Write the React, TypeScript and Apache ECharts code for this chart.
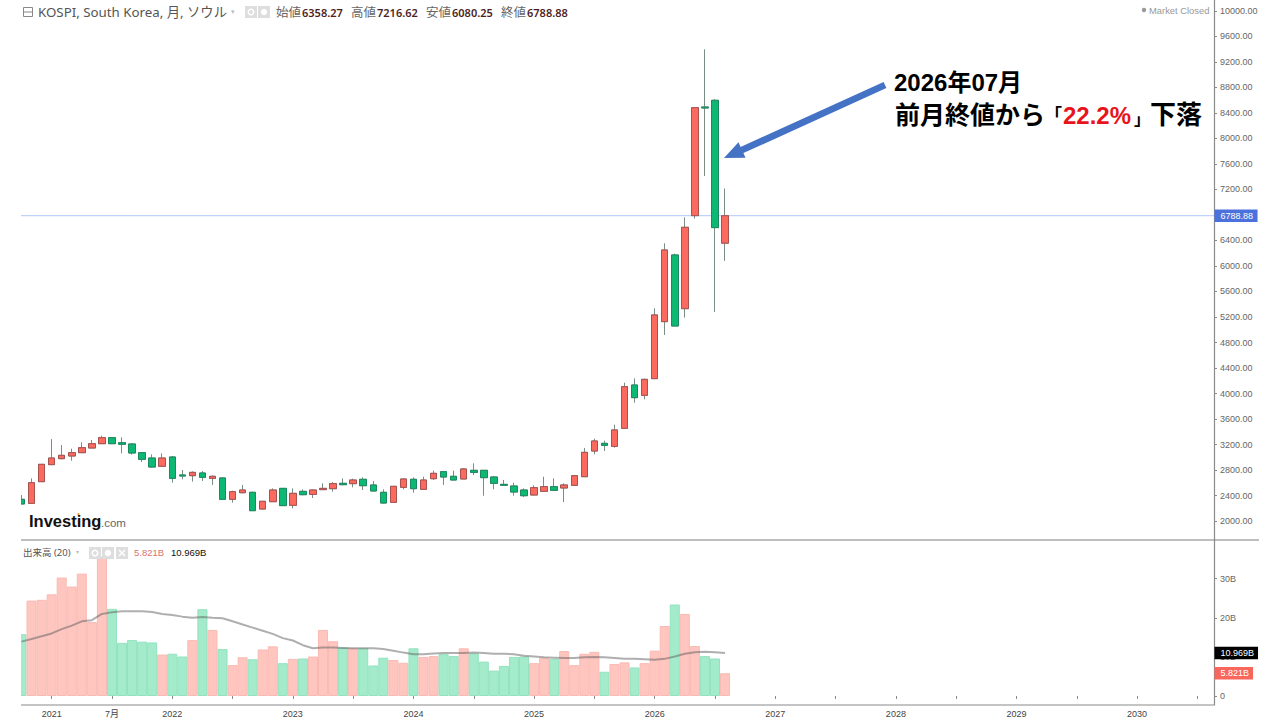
import React, { useEffect, useRef } from "react";
import * as echarts from "echarts";

const opens = [2340,2277,2617,2884,2978,3020,3072,3145,3213,3307,3229,3208,3072,2988,2858,3004,2722,2711,2753,2669,2675,2340,2444,2450,2188,2303,2512,2246,2465,2418,2492,2507,2591,2586,2654,2565,2450,2293,2528,2654,2497,2664,2774,2701,2659,2795,2795,2690,2575,2549,2486,2408,2465,2539,2518,2559,2695,3098,3218,3171,3454,4133,3971,4233,5127,6173,5331,6790,8494,8599,6358.27];
const closes = [2267,2601,2889,2988,3030,3072,3150,3213,3307,3213,3203,3067,2967,2847,2988,2669,2706,2763,2685,2701,2340,2460,2486,2162,2309,2486,2241,2434,2413,2486,2512,2586,2570,2643,2554,2471,2282,2544,2659,2507,2643,2748,2690,2643,2816,2763,2680,2591,2560,2455,2397,2523,2539,2481,2565,2711,3077,3255,3187,3428,4107,3935,4222,5232,6251,5059,6607,8484,8479,6602,6788.88];
const lows = [2267,2277,2617,2884,2967,2946,3072,3145,3213,3213,3062,3041,2926,2837,2858,2601,2654,2617,2627,2565,2329,2288,2434,2157,2183,2303,2241,2199,2403,2361,2486,2460,2560,2528,2486,2465,2277,2293,2497,2444,2497,2643,2565,2643,2659,2722,2397,2497,2554,2397,2376,2403,2460,2476,2298,2554,2695,3046,3098,3150,3454,3856,3909,4233,4918,5059,5190,6743,7412,5279,6080.25];
const highs = [2408,2669,2889,3286,3192,3135,3234,3271,3339,3318,3312,3224,3072,3046,3061,3020,2800,2779,2784,2716,2685,2476,2565,2460,2314,2512,2518,2512,2497,2497,2591,2612,2669,2664,2685,2627,2497,2549,2669,2685,2695,2790,2774,2790,2826,2905,2800,2706,2643,2601,2512,2560,2695,2669,2591,2722,3145,3292,3260,3512,4170,4238,4233,5336,6356,6194,6764,8484,9399,8615,7216.62];
const volumes = [15.8,24.4,24.6,26.0,30.3,28.0,31.3,18.9,35.6,22.3,13.6,14.3,13.9,13.7,10.6,10.8,10.1,14.3,22.2,16.9,12.0,7.9,9.9,9.4,11.9,12.7,8.4,9.5,9.6,10.1,16.9,14.0,12.4,12.2,12.2,7.8,9.8,9.2,8.5,12.2,10.0,10.2,10.7,10.2,12.2,10.9,8.8,6.5,7.7,10.0,10.1,8.4,9.8,9.5,11.5,7.9,10.8,11.3,6.2,8.2,8.6,7.3,8.4,11.6,17.9,23.4,21.0,12.8,10.2,9.6,5.821];
const volumeMA = [13.9,14.6,15.3,16.0,17.1,18.0,19.1,19.4,21.0,21.4,21.7,21.7,21.7,21.5,21.0,20.7,20.3,20.0,20.2,20.0,19.9,19.1,18.3,17.5,16.7,15.9,14.8,14.2,13.0,12.2,12.4,12.4,12.3,12.2,12.2,12.2,12.0,11.6,11.1,10.7,10.7,10.9,11.0,11.0,11.0,11.1,11.0,10.8,10.8,10.7,10.3,10.1,9.9,9.8,9.7,9.7,9.9,10.0,9.9,9.7,9.5,9.5,9.4,9.3,9.5,10.1,10.8,11.2,11.3,11.2,10.969];
const priceTicks = [10000,9600,9200,8800,8400,8000,7600,7200,6800,6400,6000,5600,5200,4800,4400,4000,3600,3200,2800,2400,2000];
const volumeTicks = [0,10,20,30];
const lastClose = 6788.88;
const lastVolume = 5.821;
const lastVolumeMA = 10.969;

const startYear = 2020;
const startMonth = 10;
const monthCount = 120;
const categories: string[] = [];
for (let i = 0; i < monthCount; i++) {
  const m = startMonth - 1 + i;
  const y = startYear + Math.floor(m / 12);
  categories.push(`${y}-${String((m % 12) + 1).padStart(2, "0")}`);
}
const firstHalfTick = "2021-07";

const SANS = '"Liberation Sans", "Noto Sans CJK JP", sans-serif';
const UI = '"Noto Sans", "Noto Sans CJK JP", sans-serif';
const JP = '"Liberation Sans", "Noto Sans CJK JP", sans-serif';
const RED = "#FB6A5F";
const RED_B = "#A85250";
const GREEN = "#0DB872";
const GREEN_B = "#1A8A60";

const isLabelled = (c: string) => c.endsWith("-01") || c === firstHalfTick;
const isTicked = (c: string) => c.endsWith("-01") || c.endsWith("-07");

const txt = (x: number, y: number, text: string, fill: string, font: number, extra: any = {}) => ({
  type: "text",
  x,
  y,
  style: { text, fill, font: `${extra.weight || "normal"} ${font}px ${extra.family || UI}`, textVerticalAlign: "middle", textAlign: extra.align || "left" },
  z: 50,
});
const box = (x: number, y: number, w = 12) => ({ type: "rect", shape: { x, y, width: w, height: w }, style: { fill: "#DEDEDE" }, z: 50 });
const ringIcon = (cx: number, cy: number) => ({ type: "ring", shape: { cx, cy, r: 3.5, r0: 2 }, style: { fill: "#FFFFFF" }, z: 51 });
const dotIcon = (cx: number, cy: number) => ({ type: "circle", shape: { cx, cy, r: 3.2 }, style: { fill: "#FFFFFF" }, z: 51 });
const seg = (x1: number, y1: number, x2: number, y2: number, stroke = "#8A8A8A", lineWidth = 1, z = 20) => ({
  type: "line",
  shape: { x1, y1, x2, y2 },
  style: { stroke, lineWidth },
  z,
});

function buildOption() {
  const candles = opens.map((o, i) => [o, closes[i], lows[i], highs[i]]);
  const bodies = opens.map((o, i) => [o, closes[i], Math.min(o, closes[i]), Math.max(o, closes[i])]);
  const vols = volumes.map((v, i) => {
    const up = closes[i] >= opens[i];
    return { value: v, itemStyle: { color: up ? "#FFC5BF" : "#A4EBCB", borderColor: up ? "#F9BAB4" : "#93E2BF", borderWidth: 1 } };
  });
  const tag = (v: number, text: string, bg: string) => ({
    silent: true,
    symbol: "none",
    animation: false,
    lineStyle: { color: "rgba(0,0,0,0)", width: 0 },
    label: {
      show: true,
      position: "end",
      distance: 0,
      offset: [-3, 0],
      formatter: text,
      color: "#FFFFFF",
      backgroundColor: bg,
      fontFamily: SANS,
      fontSize: 9,
      padding: [2, 4, 1.5, 6],
    },
    data: [{ yAxis: v }],
  });
  return {
    animation: false,
    backgroundColor: "#FFFFFF",
    grid: [
      { left: 21.5, top: 0, width: 1196, height: 540 },
      { left: 21.5, top: 540, width: 1196, height: 165 },
    ],
    xAxis: [
      { type: "category", gridIndex: 0, data: categories, boundaryGap: false, show: false },
      {
        type: "category",
        gridIndex: 1,
        data: categories,
        boundaryGap: false,
        axisLine: { show: false },
        axisTick: { show: true, length: 3, lineStyle: { color: "#8A8A8A" }, interval: (i: number, c: string) => isTicked(c) },
        splitLine: { show: false },
        axisLabel: {
          interval: (i: number, c: string) => isLabelled(c),
          formatter: (c: string) => (c === firstHalfTick ? "7月" : c.slice(0, 4)),
          color: "#444444",
          fontFamily: SANS,
          fontSize: 9,
          margin: 4,
          hideOverlap: false,
        },
      },
    ],
    yAxis: [
      {
        type: "value",
        gridIndex: 0,
        position: "right",
        offset: -3.5,
        min: 1702,
        max: 10172.5,
        scale: true,
        splitLine: { show: false },
        axisLine: { show: true, onZero: false, lineStyle: { color: "#8A8A8A", width: 1.2 } },
        axisTick: { show: true, length: 3, customValues: priceTicks, lineStyle: { color: "#8A8A8A" } },
        axisLabel: {
          customValues: priceTicks,
          formatter: (v: number) => v.toFixed(2),
          color: "#666666",
          fontFamily: SANS,
          fontSize: 9,
          margin: 6,
          align: "left",
          showMinLabel: true,
          showMaxLabel: true,
        },
      },
      {
        type: "value",
        gridIndex: 1,
        position: "right",
        offset: -3.5,
        min: -2.3,
        max: 39.9,
        splitLine: { show: false },
        axisLine: { show: true, onZero: false, lineStyle: { color: "#8A8A8A", width: 1.2 } },
        axisTick: { show: true, length: 3, customValues: volumeTicks, lineStyle: { color: "#8A8A8A" } },
        axisLabel: {
          customValues: volumeTicks,
          formatter: (v: number) => (v === 0 ? "0" : `${v}B`),
          color: "#666666",
          fontFamily: SANS,
          fontSize: 9,
          margin: 6,
          align: "left",
        },
      },
    ],
    series: [
      {
        name: "wick",
        type: "candlestick",
        xAxisIndex: 0,
        yAxisIndex: 0,
        barWidth: 7,
        data: candles,
        itemStyle: { color: "rgba(0,0,0,0)", color0: "rgba(0,0,0,0)", borderColor: "#7B8E86", borderColor0: "#7B8E86", borderWidth: 1 },
        z: 3,
      },
      {
        name: "KOSPI",
        type: "candlestick",
        xAxisIndex: 0,
        yAxisIndex: 0,
        barWidth: 7,
        data: bodies,
        itemStyle: { color: RED, color0: GREEN, borderColor: RED_B, borderColor0: GREEN_B, borderWidth: 1 },
        z: 4,
      },
      {
        name: "lastClose",
        type: "line",
        xAxisIndex: 0,
        yAxisIndex: 0,
        data: categories.map(() => lastClose),
        symbol: "none",
        color: "#5F90F2",
        lineStyle: { color: "#5F90F2", type: [1, 1], width: 1 },
        z: 2,
        markLine: {
          silent: true,
          symbol: "none",
          animation: false,
          lineStyle: { color: "rgba(0,0,0,0)", width: 0 },
          label: {
            show: true,
            position: "end",
            distance: 0,
            offset: [-3, 0],
            formatter: lastClose.toFixed(2),
            color: "#FFFFFF",
            backgroundColor: "#4B72DC",
            fontFamily: SANS,
            fontSize: 9,
            padding: [2, 4.5, 1.5, 6],
          },
          data: [{ yAxis: lastClose }],
        },
      },
      {
        name: "出来高",
        type: "bar",
        xAxisIndex: 1,
        yAxisIndex: 1,
        barWidth: 10.05,
        data: vols,
        z: 2,
        markLine: tag(lastVolume, `${lastVolume}B`, "#F9665C"),
      },
      {
        name: "MA",
        type: "line",
        xAxisIndex: 1,
        yAxisIndex: 1,
        data: volumeMA,
        symbol: "none",
        lineStyle: { color: "rgba(95,95,95,0.5)", width: 2 },
        z: 3,
        markLine: tag(lastVolumeMA, `${lastVolumeMA}B`, "#000000"),
      },
    ],
    graphic: [
      { type: "group", silent: true, children: [
        // the reference's panes crop the first month at their left edge
        { type: "rect", shape: { x: 0, y: 0, width: 21, height: 705 }, style: { fill: "#FFFFFF" }, z: 19 },
        seg(21, 540, 1259, 540, "#7E7E7E", 1),
        seg(21, 705, 1214, 705, "#8A8A8A", 1.2),
        // header
        { type: "rect", shape: { x: 23.5, y: 7.5, width: 9, height: 9 }, style: { fill: "#FFF", stroke: "#888", lineWidth: 1 }, z: 50 },
        seg(24, 12, 32, 12, "#888", 1, 52),
        txt(38, 12, "KOSPI, South Korea, 月, ソウル", "#555555", 13.3),
        txt(231, 11, "▾", "#BBBBBB", 7),
        box(245, 6), ringIcon(251, 12),
        box(258, 6), dotIcon(264, 12),
        txt(276, 12, "始値", "#666666", 12.5),
        txt(302, 12, "6358.27", "#4E1E1E", 11, { weight: "600" }),
        txt(351, 12, "高値", "#666666", 12.5),
        txt(377, 12, "7216.62", "#4E1E1E", 11, { weight: "600" }),
        txt(426, 12, "安値", "#666666", 12.5),
        txt(452, 12, "6080.25", "#4E1E1E", 11, { weight: "600" }),
        txt(501, 12, "終値", "#666666", 12.5),
        txt(527, 12, "6788.88", "#4E1E1E", 11, { weight: "600" }),
        { type: "circle", shape: { cx: 1144, cy: 10, r: 2.2 }, style: { fill: "#999999" }, z: 50 },
        txt(1149, 10, "Market Closed", "#999999", 9.4, { family: SANS }),
        // volume legend
        txt(23, 552.5, "出来高 (20)", "#555555", 9.5),
        txt(76, 552, "▾", "#BBBBBB", 6),
        box(89, 547), ringIcon(95, 553),
        box(102, 547), dotIcon(108, 553),
        box(116, 547),
        seg(119, 550, 125, 556, "#FFFFFF", 1.5, 52),
        seg(125, 550, 119, 556, "#FFFFFF", 1.5, 52),
        txt(134, 552.5, "5.821B", "#D9736C", 9.5, { family: SANS }),
        txt(171, 552.5, "10.969B", "#111111", 9.5, { family: SANS }),
        // logo
        txt(29, 521, "Investing", "#111111", 16.5, { family: SANS, weight: "bold" }),
        txt(101, 523, ".com", "#666666", 11.5, { family: SANS }),
        { type: "circle", shape: { cx: 78.5, cy: 514, r: 1.1 }, style: { fill: "#F0A030" }, z: 51 },
        // annotation
        { type: "polygon", shape: { points: [[724,158],[738.5,142.3],[740.6,146.9],[883.6,81.9],[886.4,88.1],[743.4,153.1],[745.5,157.7]] }, style: { fill: "#4472C4" }, z: 40 },
        txt(894, 82.5, "2026年07月", "#000000", 24, { family: JP, weight: "bold" }),
        txt(895, 115, "前月終値から", "#000000", 25, { family: JP, weight: "bold" }),
        txt(1045, 113, "「", "#000000", 17, { family: '"Noto Sans CJK JP"', weight: "bold" }),
        txt(1063, 115, "22.2%", "#E8141C", 24, { family: JP, weight: "bold" }),
        txt(1134, 118, "」", "#000000", 16, { family: '"Noto Sans CJK JP"', weight: "bold" }),
        txt(1150, 115, "下落", "#000000", 26, { family: JP, weight: "bold" }),
      ]},
    ],
  };
}

export default function App() {
  const ref = useRef<HTMLDivElement>(null);
  useEffect(() => {
    const chart = echarts.init(ref.current as HTMLDivElement, undefined, { renderer: "svg" });
    chart.setOption(buildOption() as any);
    return () => chart.dispose();
  }, []);
  return <div ref={ref} style={{ position: "absolute", left: 0, top: 0, width: 1280, height: 720 }} />;
}
